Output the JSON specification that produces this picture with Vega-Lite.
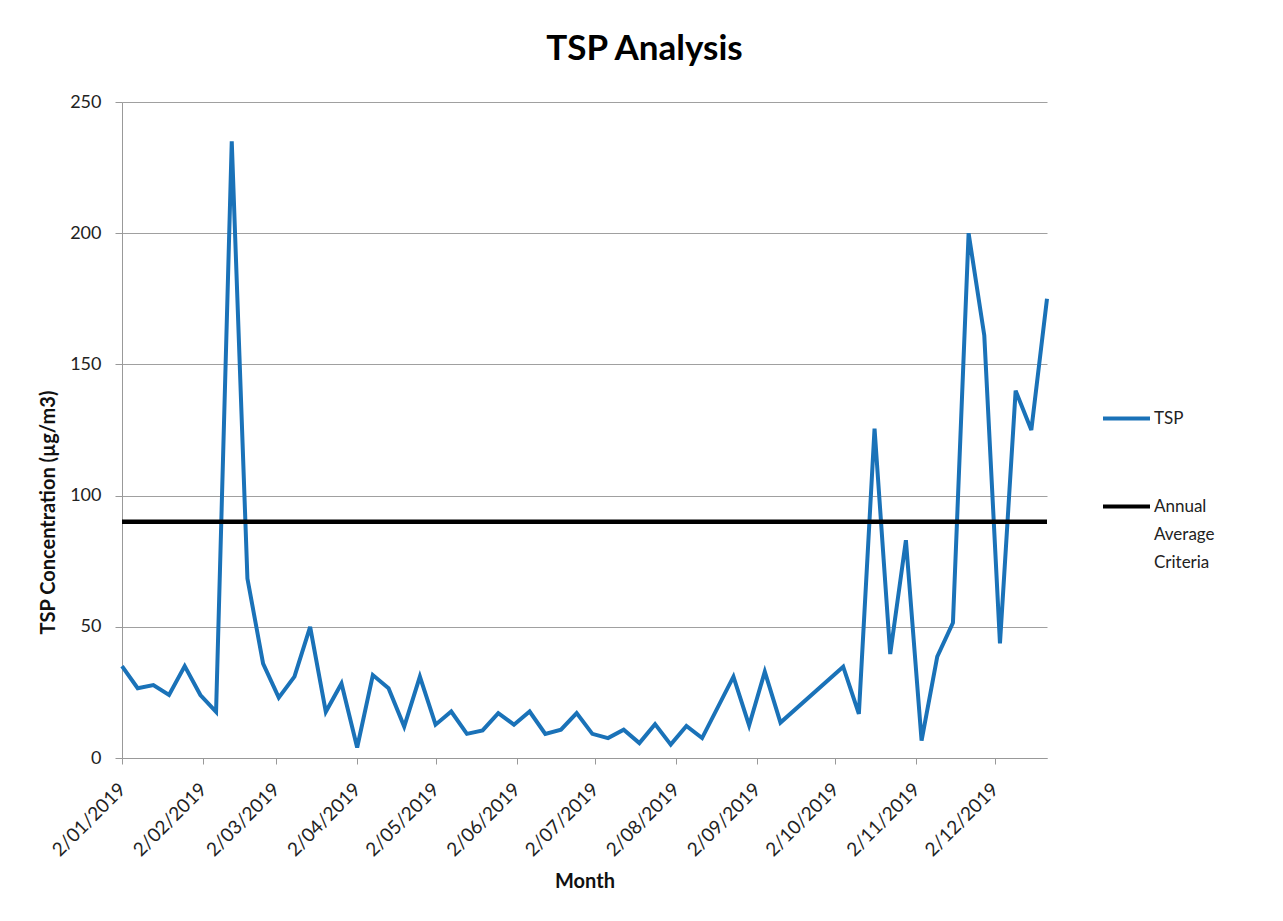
{
  "$schema": "https://vega.github.io/schema/vega-lite/v6.json",
  "width": 925,
  "height": 656,
  "autosize": {"type": "none"},
  "padding": {"left": 122, "top": 102, "right": 236, "bottom": 163},
  "background": "white",
  "title": {
    "text": "TSP Analysis",
    "font": "Lato",
    "fontSize": 35,
    "fontWeight": "bold",
    "color": "#000000",
    "anchor": "middle",
    "frame": "group",
    "dx": 60,
    "offset": 26
  },
  "config": {
    "font": "Lato",
    "view": {"stroke": null},
    "axis": {
      "labelFont": "Lato",
      "labelFontSize": 18,
      "labelColor": "#222222",
      "titleFont": "Lato",
      "titleFontSize": 20,
      "titleFontWeight": "bold",
      "titleColor": "#111111",
      "domainColor": "#999999",
      "tickColor": "#999999",
      "gridColor": "#a0a0a0",
      "gridWidth": 1
    }
  },
  "datasets": {
    "tsp": [
      {"date": "2019-01-02", "value": 35, "series": "TSP"},
      {"date": "2019-01-08", "value": 26.6, "series": "TSP"},
      {"date": "2019-01-14", "value": 27.8, "series": "TSP"},
      {"date": "2019-01-20", "value": 24, "series": "TSP"},
      {"date": "2019-01-26", "value": 35, "series": "TSP"},
      {"date": "2019-02-01", "value": 24, "series": "TSP"},
      {"date": "2019-02-07", "value": 17.6, "series": "TSP"},
      {"date": "2019-02-13", "value": 235, "series": "TSP"},
      {"date": "2019-02-19", "value": 68.4, "series": "TSP"},
      {"date": "2019-02-25", "value": 36, "series": "TSP"},
      {"date": "2019-03-03", "value": 23, "series": "TSP"},
      {"date": "2019-03-09", "value": 31, "series": "TSP"},
      {"date": "2019-03-15", "value": 50, "series": "TSP"},
      {"date": "2019-03-21", "value": 17.6, "series": "TSP"},
      {"date": "2019-03-27", "value": 28.4, "series": "TSP"},
      {"date": "2019-04-02", "value": 4, "series": "TSP"},
      {"date": "2019-04-08", "value": 31.6, "series": "TSP"},
      {"date": "2019-04-14", "value": 26.6, "series": "TSP"},
      {"date": "2019-04-20", "value": 12, "series": "TSP"},
      {"date": "2019-04-26", "value": 31, "series": "TSP"},
      {"date": "2019-05-02", "value": 12.7, "series": "TSP"},
      {"date": "2019-05-08", "value": 17.7, "series": "TSP"},
      {"date": "2019-05-14", "value": 9.2, "series": "TSP"},
      {"date": "2019-05-20", "value": 10.5, "series": "TSP"},
      {"date": "2019-05-26", "value": 17.1, "series": "TSP"},
      {"date": "2019-06-01", "value": 12.7, "series": "TSP"},
      {"date": "2019-06-07", "value": 17.7, "series": "TSP"},
      {"date": "2019-06-13", "value": 9.2, "series": "TSP"},
      {"date": "2019-06-19", "value": 10.8, "series": "TSP"},
      {"date": "2019-06-25", "value": 17.1, "series": "TSP"},
      {"date": "2019-07-01", "value": 9.2, "series": "TSP"},
      {"date": "2019-07-07", "value": 7.6, "series": "TSP"},
      {"date": "2019-07-13", "value": 10.8, "series": "TSP"},
      {"date": "2019-07-19", "value": 5.7, "series": "TSP"},
      {"date": "2019-07-25", "value": 12.9, "series": "TSP"},
      {"date": "2019-07-31", "value": 5.1, "series": "TSP"},
      {"date": "2019-08-06", "value": 12.2, "series": "TSP"},
      {"date": "2019-08-12", "value": 7.6, "series": "TSP"},
      {"date": "2019-08-24", "value": 31, "series": "TSP"},
      {"date": "2019-08-30", "value": 12.4, "series": "TSP"},
      {"date": "2019-09-05", "value": 32.9, "series": "TSP"},
      {"date": "2019-09-11", "value": 13.5, "series": "TSP"},
      {"date": "2019-10-05", "value": 34.8, "series": "TSP"},
      {"date": "2019-10-11", "value": 16.8, "series": "TSP"},
      {"date": "2019-10-17", "value": 125.5, "series": "TSP"},
      {"date": "2019-10-23", "value": 39.6, "series": "TSP"},
      {"date": "2019-10-29", "value": 83, "series": "TSP"},
      {"date": "2019-11-04", "value": 6.6, "series": "TSP"},
      {"date": "2019-11-10", "value": 38.6, "series": "TSP"},
      {"date": "2019-11-16", "value": 51.5, "series": "TSP"},
      {"date": "2019-11-22", "value": 200, "series": "TSP"},
      {"date": "2019-11-28", "value": 161, "series": "TSP"},
      {"date": "2019-12-04", "value": 43.7, "series": "TSP"},
      {"date": "2019-12-10", "value": 140, "series": "TSP"},
      {"date": "2019-12-16", "value": 125, "series": "TSP"},
      {"date": "2019-12-22", "value": 175, "series": "TSP"}
    ],
    "criteria": [
      {"date": "2019-01-02", "value": 90, "series": "Annual Average Criteria"},
      {"date": "2019-12-22", "value": 90, "series": "Annual Average Criteria"}
    ]
  },
  "encoding": {
    "x": {
      "field": "date",
      "type": "temporal",
      "title": "Month",
      "scale": {
        "type": "utc",
        "domain": [
          {"year": 2019, "month": 1, "date": 2, "utc": true},
          {"year": 2019, "month": 12, "date": 22, "utc": true}
        ],
        "nice": false
      },
      "axis": {
        "values": [
          {"year": 2019, "month": 1, "date": 2, "utc": true},
          {"year": 2019, "month": 2, "date": 2, "utc": true},
          {"year": 2019, "month": 3, "date": 2, "utc": true},
          {"year": 2019, "month": 4, "date": 2, "utc": true},
          {"year": 2019, "month": 5, "date": 2, "utc": true},
          {"year": 2019, "month": 6, "date": 2, "utc": true},
          {"year": 2019, "month": 7, "date": 2, "utc": true},
          {"year": 2019, "month": 8, "date": 2, "utc": true},
          {"year": 2019, "month": 9, "date": 2, "utc": true},
          {"year": 2019, "month": 10, "date": 2, "utc": true},
          {"year": 2019, "month": 11, "date": 2, "utc": true},
          {"year": 2019, "month": 12, "date": 2, "utc": true}
        ],
        "labelExpr": "utcFormat(datum.value, '%-d/%m/%Y')",
        "labelAngle": -45,
        "labelAlign": "right",
        "labelBaseline": "middle",
        "labelPadding": 22,
        "labelFontSize": 19,
        "labelOverlap": false,
        "labelBound": false,
        "labelFlush": false,
        "grid": false,
        "tickSize": 6,
        "titlePadding": 12
      }
    },
    "y": {
      "field": "value",
      "type": "quantitative",
      "title": "TSP Concentration (µg/m3)",
      "scale": {"domain": [0, 250], "nice": false},
      "axis": {
        "values": [0, 50, 100, 150, 200, 250],
        "tickSize": 7,
        "labelPadding": 14,
        "titlePadding": 11,
        "titleY": 410,
        "grid": true
      }
    },
    "color": {
      "field": "series",
      "type": "nominal",
      "scale": {
        "domain": ["TSP", "Annual Average Criteria"],
        "range": ["#1a72b8", "#000000"]
      },
      "legend": {
        "title": null,
        "orient": "none",
        "legendX": 979,
        "legendY": 291,
        "symbolType": "stroke",
        "symbolStrokeWidth": 4,
        "symbolSize": 2209,
        "labelFontSize": 17,
        "labelFont": "Lato",
        "labelColor": "#222222",
        "labelOffset": 2,
        "rowPadding": 54,
        "labelLimit": 200,
        "labelExpr": "datum.label == 'Annual Average Criteria' ? ['Annual', 'Average', 'Criteria'] : datum.label",
        "encode": {
          "labels": {"update": {"lineHeight": {"value": 28}}}
        }
      }
    }
  },
  "layer": [
    {
      "data": {"name": "tsp"},
      "mark": {"type": "line", "strokeWidth": 4, "strokeJoin": "miter"}
    },
    {
      "data": {"name": "criteria"},
      "mark": {"type": "line", "strokeWidth": 4.5}
    }
  ]
}
